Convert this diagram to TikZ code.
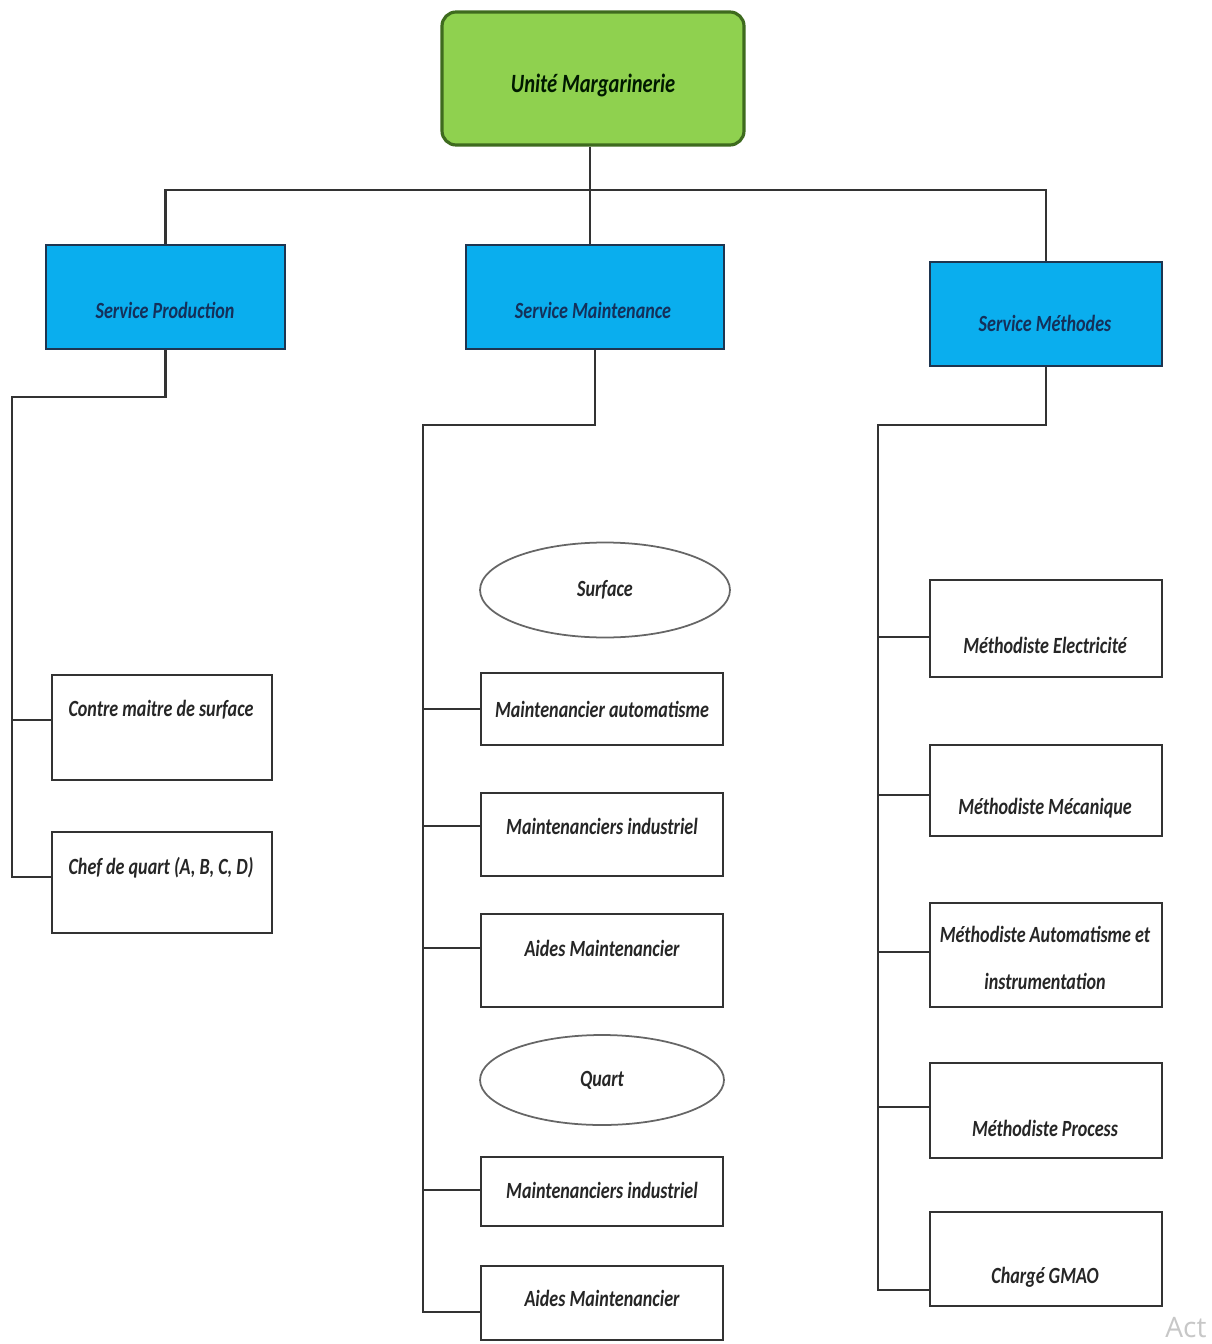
\documentclass[tikz,border=0pt]{standalone}
\usepackage{fontspec}
\setmainfont{Carlito}
\newfontfamily\boxfont[FakeStretch=0.78]{Carlito}
\newfontfamily\wmfont{Open Sans}
\usetikzlibrary{shapes.geometric,fit}
\definecolor{rootgreen}{HTML}{8FD14F}
\definecolor{rootedge}{HTML}{3E6B1E}
\definecolor{svcblue}{HTML}{0AAEEE}
\definecolor{svcedge}{HTML}{1E3550}
\definecolor{svctext}{HTML}{14305A}
\definecolor{linegray}{HTML}{333333}
\begin{document}
\begin{tikzpicture}[x=0.02cm,y=-0.02cm,
  conn/.style={draw=linegray, line width=1.3pt},
  rootbox/.style={draw=rootedge, line width=1.8pt, fill=rootgreen, rounded corners=8pt, inner sep=0pt},
  svcbox/.style={draw=svcedge, line width=1.6pt, fill=svcblue, inner sep=0pt},
  rolebox/.style={draw=black!80, line width=1.5pt, fill=white, inner sep=0pt},
  groupell/.style={ellipse, draw=black!60, line width=1pt, fill=white, inner sep=0pt},
  txt/.style={font=\boxfont\bfseries\itshape\fontsize{13.2}{17}\selectfont, text=black!85, align=center},
  svctxt/.style={txt, text=svctext}
]
\path[fill=white] (0,0) rectangle (1212,1344);
\useasboundingbox (0,0) rectangle (1212,1344);

% root
\node[rootbox, fit={(442,12) (744,145)}] (root) {};
\node[txt, font=\boxfont\bfseries\itshape\fontsize{15}{19}\selectfont, text=black!90!green] (root-t) at (593,85) {Unité Margarinerie};

% services
\node[svcbox, fit={(46,245) (285,349)}] (sp) {};
\node[svctxt] (sp-t) at (165,310) {Service Production};
\node[svcbox, fit={(466,245) (724,349)}] (sm) {};
\node[svctxt] (sm-t) at (593,310) {Service Maintenance};
\node[svcbox, fit={(930,262) (1162,366)}] (sme) {};
\node[svctxt] (sme-t) at (1045,323) {Service Méthodes};

% top connectors
\coordinate (bar) at (590,190);
\draw[conn] (root.south -| bar) -- (sm.north -| bar);
\draw[conn] (sp.north) |- (bar) -| (sme.north);

% production column
\node[rolebox, fit={(52,675) (272,780)}] (cm) {};
\node[txt] (cm-t) at (161,710) {Contre maitre de surface};
\node[rolebox, fit={(52,832) (272,933)}] (cq) {};
\node[txt] (cq-t) at (161,868) {Chef de quart (A, B, C, D)};
\coordinate (pt) at (12,397);
\coordinate (pb1) at (12,720);
\coordinate (pb2) at (12,877);
\draw[conn] (sp.south) |- (pt) -- (pb2) -- (pb2 -| cq.west);
\draw[conn] (pb1) -- (pb1 -| cm.west);

% maintenance column
\node[groupell, minimum width=5cm, minimum height=1.9cm, txt] (surf) at (605,590) {Surface};
\node[rolebox, fit={(481,673) (723,745)}] (ma) {};
\node[txt] (ma-t) at (602,709) {Maintenancier automatisme};
\node[rolebox, fit={(481,793) (723,876)}] (mi1) {};
\node[txt] (mi1-t) at (602,826) {Maintenanciers industriel};
\node[rolebox, fit={(481,914) (723,1007)}] (am1) {};
\node[txt] (am1-t) at (602,948) {Aides Maintenancier};
\node[groupell, minimum width=4.88cm, minimum height=1.8cm, txt] (quart) at (602,1080) {Quart};
\node[rolebox, fit={(481,1157) (723,1226)}] (mi2) {};
\node[txt] (mi2-t) at (602,1190) {Maintenanciers industriel};
\node[rolebox, fit={(481,1266) (723,1340)}] (am2) {};
\node[txt] (am2-t) at (602,1298) {Aides Maintenancier};
\coordinate (mt) at (423,425);
\coordinate (mb1) at (423,709);
\coordinate (mb2) at (423,826);
\coordinate (mb3) at (423,948);
\coordinate (mb4) at (423,1190);
\coordinate (mb5) at (423,1312);
\draw[conn] (sm.south) |- (mt) -- (mb5) -- (mb5 -| am2.west);
\draw[conn] (mb1) -- (mb1 -| ma.west);
\draw[conn] (mb2) -- (mb2 -| mi1.west);
\draw[conn] (mb3) -- (mb3 -| am1.west);
\draw[conn] (mb4) -- (mb4 -| mi2.west);

% methodes column
\node[rolebox, fit={(930,580) (1162,677)}] (me) {};
\node[txt] (me-t) at (1045,645) {Méthodiste Electricité};
\node[rolebox, fit={(930,745) (1162,836)}] (mm) {};
\node[txt] (mm-t) at (1045,808) {Méthodiste Mécanique};
\node[rolebox, fit={(930,903) (1162,1007)}] (mai) {};
\node[txt, font=\boxfont\bfseries\itshape\fontsize{13.2}{27}\selectfont] (mai-t) at (1045,958) {Méthodiste Automatisme et\\instrumentation};
\node[rolebox, fit={(930,1063) (1162,1158)}] (mp) {};
\node[txt] (mp-t) at (1045,1128) {Méthodiste Process};
\node[rolebox, fit={(930,1212) (1162,1306)}] (gm) {};
\node[txt] (gm-t) at (1045,1277) {Chargé GMAO};
\coordinate (et) at (878,425);
\coordinate (eb1) at (878,637);
\coordinate (eb2) at (878,795);
\coordinate (eb3) at (878,952);
\coordinate (eb4) at (878,1107);
\coordinate (eb5) at (878,1290);
\draw[conn] (sme.south) |- (et) -- (eb5) -- (eb5 -| gm.west);
\draw[conn] (eb1) -- (eb1 -| me.west);
\draw[conn] (eb2) -- (eb2 -| mm.west);
\draw[conn] (eb3) -- (eb3 -| mai.west);
\draw[conn] (eb4) -- (eb4 -| mp.west);

% watermark remnant
\node[anchor=south west, inner sep=0pt, text=black!22, font=\wmfont\fontsize{16}{16}\selectfont] (wm) at (1165,1338) {Act};
\end{tikzpicture}
\end{document}
